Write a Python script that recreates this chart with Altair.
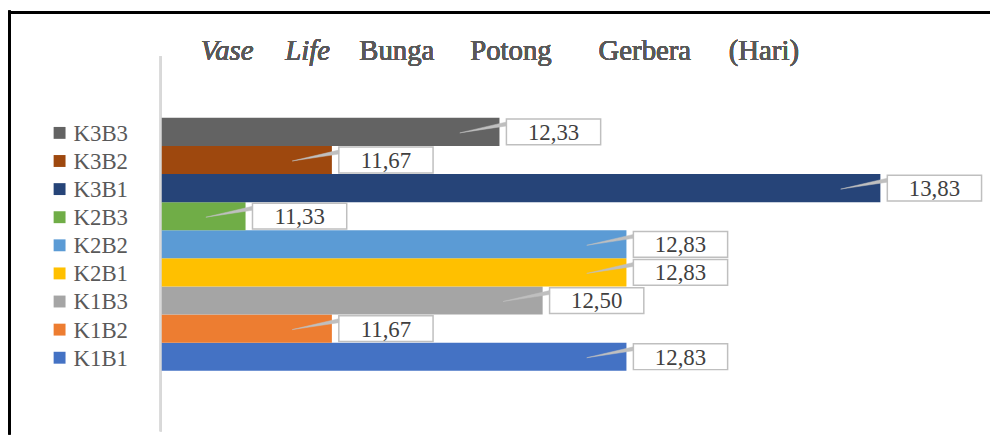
import altair as alt
import pandas as pd

# ---- data ----
categories = ["K1B1", "K1B2", "K1B3", "K2B1", "K2B2", "K2B3", "K3B1", "K3B2", "K3B3"]
values = [12.83, 11.67, 12.50, 12.83, 12.83, 11.33, 13.83, 11.67, 12.33]
colors = ["#4472C4", "#ED7D31", "#A5A5A5", "#FFC000", "#5B9BD5",
          "#70AD47", "#264478", "#9E480E", "#636363"]
axis_min = 11
axis_max = 14
title_words = ["Vase", "Life", "Bunga", "Potong", "Gerbera", "(Hari)"]

df = pd.DataFrame({
    "cat": categories,
    "val": values,
    "label": [f"{v:.2f}".replace(".", ",") for v in values],
})

FONT = "Times New Roman, Liberation Serif, DejaVu Serif, serif"
order = categories[::-1]

xs = alt.Scale(domain=[axis_min, axis_max], range=[155, 923])
ys = alt.Scale(domain=order, range=[109, 364], paddingInner=0, paddingOuter=0)
cs = alt.Scale(domain=categories, range=colors)

X = alt.X("val:Q", scale=xs, axis=None)
Y = alt.Y("cat:N", scale=ys, sort=order, axis=None)

base = alt.Chart(df)

bars = base.mark_bar().encode(
    x=X, x2=alt.X2(datum=axis_min), y=Y,
    color=alt.Color("cat:N", scale=cs, legend=None),
)

keys = base.mark_square(size=144, opacity=1, yOffset=1).encode(
    x=alt.value(52), y=Y,
    color=alt.Color("cat:N", scale=cs, legend=None),
)

cat_labels = base.mark_text(align="right", baseline="middle", font=FONT, fontSize=23,
                            fontWeight="normal", color="#595959", yOffset=2).encode(
    x=alt.value(121), y=Y, text="cat:N",
)

boxes = base.mark_bar(height=26, fill="white", stroke="#bfbfbf", strokeWidth=1.5,
                      xOffset=7, x2Offset=102).encode(
    x=X, x2="val:Q", y=Y,
)

pointer = base.mark_point(
    shape="M -0.8 0.02 L 0.14 -0.2 L 0.14 -0.12 Z",
    size=10000, filled=True, fill="#bfbfbf", stroke="#bfbfbf", strokeWidth=0.5,
    opacity=1,
).encode(x=X, y=Y)

texts = base.mark_text(dx=54.5, align="center", baseline="middle", dy=1,
                       font=FONT, fontSize=23, fontWeight="normal",
                       color="#404040").encode(
    x=X, y=Y, text="label:N",
)

# vertical category-axis line
vline = alt.Chart().mark_rule(color="#d9d9d9", strokeWidth=2).encode(
    x=alt.value(154), y=alt.value(47), y2=alt.value(425))

# chart frame (top and left edges)
frame_top = alt.Chart().mark_rule(color="black", strokeWidth=2.5).encode(
    x=alt.value(1), x2=alt.value(990), y=alt.value(2.5))
frame_left = alt.Chart().mark_rule(color="black", strokeWidth=2.5).encode(
    x=alt.value(1.5), y=alt.value(1), y2=alt.value(428))

# title, word by word (Excel letter-spaced title)
word_centers = [221, 302, 392, 507, 642, 762]
title_layers = []
for i, (w, cx) in enumerate(zip(title_words, word_centers)):
    title_layers.append(
        alt.Chart().mark_text(
            text=w, font=FONT, fontSize=29, fontWeight="normal", color="#595959",
            align="center", baseline="alphabetic",
            fontStyle="italic" if i < 2 else "normal",
        ).encode(x=alt.value(cx), y=alt.value(51))
    )

chart = alt.layer(
    vline, bars, keys, cat_labels, boxes, pointer, texts, frame_top, frame_left,
    *title_layers,
    data=df,
).properties(
    width=990, height=428, padding=0,
    autosize=alt.AutoSizeParams(type="none"),
).configure_view(stroke=None)

chart.save("out.html", embed_options={"renderer": "svg", "actions": False})
